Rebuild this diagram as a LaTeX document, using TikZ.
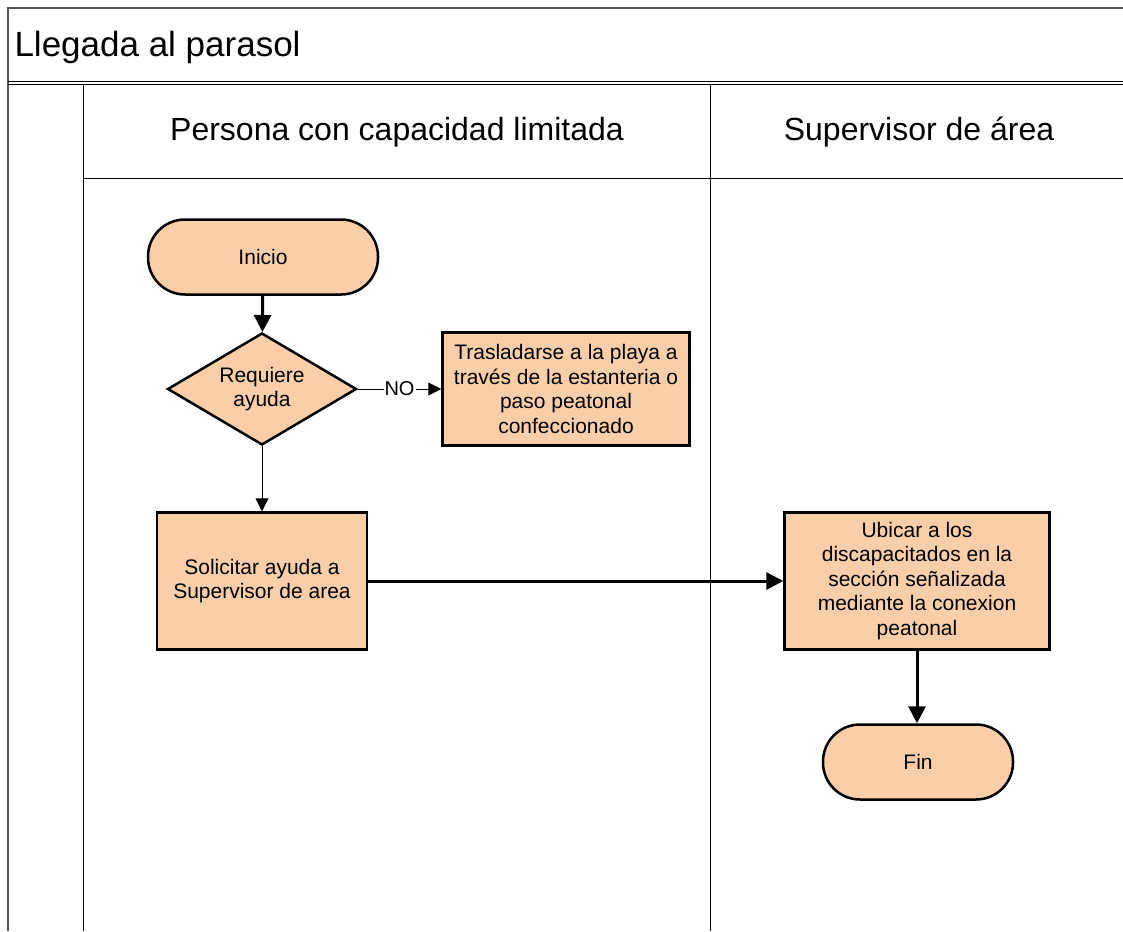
\documentclass[tikz,border=0pt]{standalone}
\usepackage{fontspec}
\setmainfont{Liberation Sans}
\usepackage{xcolor}
\usetikzlibrary{arrows.meta,shapes.geometric}
\definecolor{durazno}{RGB}{250,206,168}
\definecolor{marco}{RGB}{85,85,85}

\tikzset{
	caja/.style={draw, line width=2.5pt, fill=durazno, align=center, inner sep=0pt,
		font=\fontsize{21}{24.5}\selectfont},
	terminal/.style={caja, rounded corners=37pt, minimum width=230pt, minimum height=75pt},
	decision/.style={caja, diamond, aspect=1.69, minimum width=189pt, minimum height=112pt},
	flecha/.style={line width=3pt, -{Triangle[length=17pt,width=17pt]}},
	flechafina/.style={line width=1pt, -{Triangle[length=13pt,width=13pt]}}
}

\begin{document}
\begin{tikzpicture}[x=1pt,y=-1pt]
				\useasboundingbox (0,0) rectangle (1123,931);
				
				% marco y carriles
				\draw[marco, line width=2pt] (8,931) -- (8,8) -- (1123,8);
				\draw[line width=1pt] (8,81.5) -- (1123,81.5);
				\draw[line width=1pt] (8,84.5) -- (1123,84.5);
				\draw[line width=1pt] (83,84.5) -- (83,931);
				\draw[line width=1pt] (710,84.5) -- (710,931);
				\draw[line width=1pt] (83,178) -- (1123,178);
				
				\node[anchor=base west, font=\fontsize{35}{40}\selectfont] (titulo) at (11,57) {Llegada al parasol};
				\node[anchor=base, font=\fontsize{32}{36}\selectfont] (carril1) at (397,140) {Persona con capacidad limitada};
				\node[anchor=base, font=\fontsize{32}{36}\selectfont] (carril2) at (919,140) {Supervisor de área};
				
				% nodos
				\node[terminal] (inicio) at (263,257) {Inicio};
				\node[decision] (requiere) at (262,389) {Requiere\\ayuda};
				\node[caja, minimum width=247pt, minimum height=113pt] (trasladar) at (566,389)
					{Trasladarse a la playa a\\través de la estanteria o\\paso peatonal\\confeccionado};
				\node[caja, minimum width=210pt, minimum height=137pt] (solicitar) at (262,581)
					{Solicitar ayuda a\\Supervisor de area};
				\node[caja, minimum width=265pt, minimum height=137pt] (ubicar) at (917,581)
					{Ubicar a los\\discapacitados en la\\sección señalizada\\mediante la conexion\\peatonal};
				\node[terminal, minimum width=190pt] (fin) at (918,762) {Fin};
				
				% conectores
				\draw[flecha] (inicio) -- (requiere);
				\draw[flechafina] (requiere) -- node[fill=white, inner sep=1pt, font=\fontsize{20}{22}\selectfont] (no) {NO} (trasladar);
				\draw[flechafina] (requiere) -- (solicitar);
				\draw[flecha] (solicitar) -- (ubicar);
				\draw[flecha] (ubicar.south) -- (ubicar.south |- fin.north);
\end{tikzpicture}
\end{document}
